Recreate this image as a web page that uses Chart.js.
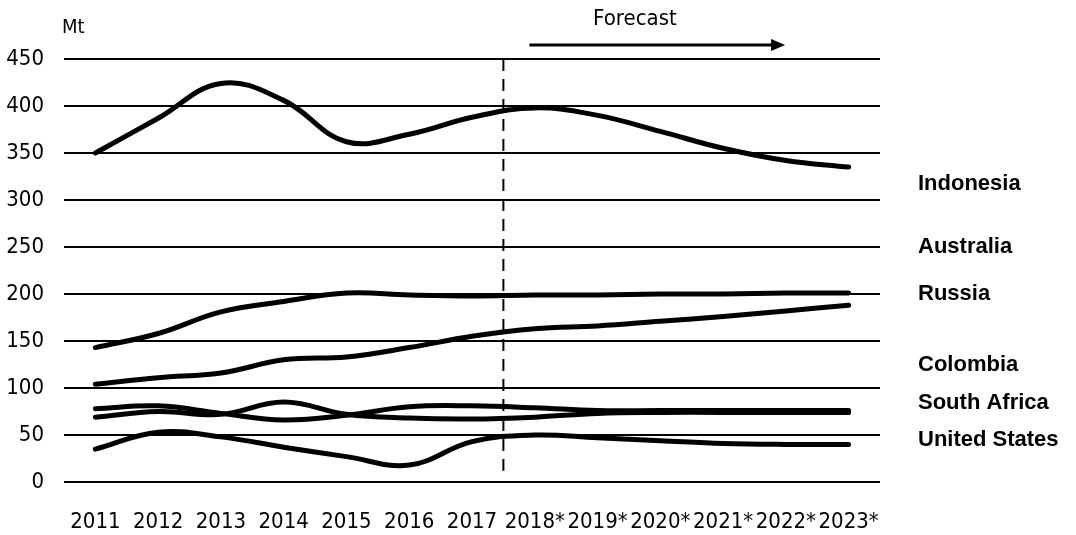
<!DOCTYPE html>
<html>
<head>
<meta charset="utf-8">
<script src="https://cdn.jsdelivr.net/npm/chart.js@4/dist/chart.umd.min.js"></script>
<style>
html,body{margin:0;padding:0;background:#fff;}
#wrap{width:1076px;height:535px;position:relative;}
</style>
</head>
<body>
<div id="wrap"><canvas id="c" width="1076" height="535"></canvas></div>
<script>
const years = ['2011','2012','2013','2014','2015','2016','2017','2018*','2019*','2020*','2021*','2022*','2023*'];
const indonesia   = [350, 387, 424, 406, 362, 370, 388, 398, 390, 373, 355, 342, 335];
const australia   = [143, 158, 181, 192, 201, 199, 198, 199, 199, 200, 200, 201, 201];
const russia      = [104, 111, 116, 130, 133, 143, 155, 163, 166, 171, 176, 182, 188];
const southAfrica = [78, 81, 73, 66, 71, 80, 81, 79, 76, 76, 76, 76, 76];
const colombia    = [69, 75, 72, 85, 72, 68, 67, 69, 73, 74, 74, 74, 74];
const unitedStates= [35, 53, 48, 37, 27, 18, 43, 50, 47, 44, 41, 40, 40];
const yTicks = [0, 50, 100, 150, 200, 250, 300, 350, 400, 450];
const seriesNames = ['Indonesia','Australia','Russia','Colombia','South Africa','United States'];
const nameLevels  = [317, 250, 200, 125, 84, 45];
const forecastStartIndex = 7;

const tickFont = "'DejaVu Sans Condensed','Liberation Sans Narrow','Liberation Sans',sans-serif";

const mk = (label, data) => ({
  label, data,
  borderColor: '#000', backgroundColor: '#000',
  borderWidth: 5, pointRadius: 0, tension: 0.4, fill: false,
  borderCapStyle: 'round'
});

const annot = {
  id: 'annot',
  afterDatasetsDraw(chart) {
    const ctx = chart.ctx, x = chart.scales.x, y = chart.scales.y, a = chart.chartArea;
    ctx.save();
    // dashed forecast divider
    const dx = (x.getPixelForValue(forecastStartIndex - 1) + x.getPixelForValue(forecastStartIndex)) / 2;
    ctx.strokeStyle = '#000'; ctx.lineWidth = 2; ctx.setLineDash([12, 8]);
    ctx.beginPath(); ctx.moveTo(dx, a.top); ctx.lineTo(dx, y.getPixelForValue(12)); ctx.stroke();
    ctx.setLineDash([]);
    // Forecast arrow
    const ay = a.top - 14;
    const ax0 = dx + 26, ax1 = x.getPixelForValue(10) + 62;
    ctx.lineWidth = 3;
    ctx.fillStyle = '#000';
    ctx.beginPath(); ctx.moveTo(ax0, ay); ctx.lineTo(ax1 - 10, ay); ctx.stroke();
    ctx.beginPath(); ctx.moveTo(ax1, ay); ctx.lineTo(ax1 - 14, ay - 6); ctx.lineTo(ax1 - 14, ay + 6); ctx.closePath(); ctx.fill();
    ctx.font = "22px " + tickFont;
    ctx.textAlign = 'center'; ctx.textBaseline = 'middle';
    ctx.fillText('Forecast', (x.getPixelForValue(8) + x.getPixelForValue(9)) / 2 + 6, 19);
    // Mt
    ctx.textAlign = 'left';
    ctx.font = "20px " + tickFont;
    ctx.fillText('Mt', 62, 28);
    // series names
    ctx.font = "bold 22px 'Liberation Sans',sans-serif";
    seriesNames.forEach((n, i) => {
      ctx.fillText(n, 918, y.getPixelForValue(nameLevels[i]));
    });
    ctx.restore();
  }
};

new Chart(document.getElementById('c'), {
  type: 'line',
  data: {
    labels: years,
    datasets: [mk('Indonesia', indonesia), mk('Australia', australia), mk('Russia', russia),
               mk('South Africa', southAfrica), mk('Colombia', colombia), mk('United States', unitedStates)]
  },
  options: {
    responsive: false, animation: false,
    layout: { padding: { top: 59, right: 196, left: 0, bottom: 0 } },
    plugins: { legend: { display: false }, tooltip: { enabled: false } },
    scales: {
      x: {
        offset: true,
        grid: { display: false, drawTicks: false },
        border: { display: false },
        ticks: { color: '#000', font: { family: tickFont, size: 22 }, padding: 27, maxRotation: 0, autoSkip: false },
        afterFit(s) { s.height = 53; }
      },
      y: {
        min: 0, max: 450,
        afterBuildTicks(s) { s.ticks = yTicks.map(v => ({ value: v })); },
        grid: { color: '#000', lineWidth: 2, drawTicks: false },
        border: { display: false },
        ticks: { color: '#000', font: { family: tickFont, size: 22 }, padding: 20 },
        afterFit(s) { s.width = 64; }
      }
    }
  },
  plugins: [annot]
});
</script>
</body>
</html>
